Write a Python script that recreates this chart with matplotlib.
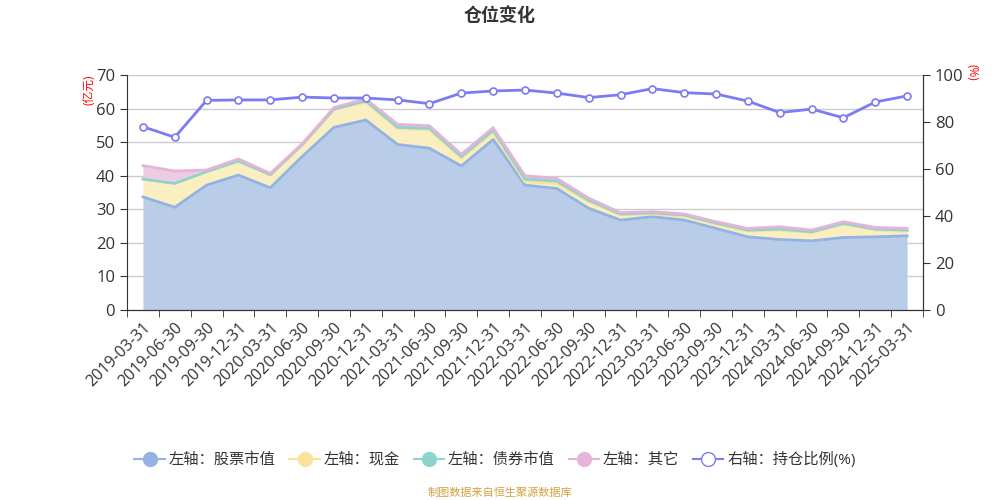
import matplotlib
matplotlib.use('Agg')
import matplotlib.pyplot as plt
from matplotlib.lines import Line2D
import numpy as np

plt.rcParams['font.family'] = ['Open Sans', 'Noto Sans CJK SC', 'DejaVu Sans']

dates = ['2019-03-31', '2019-06-30', '2019-09-30', '2019-12-31', '2020-03-31',
         '2020-06-30', '2020-09-30', '2020-12-31', '2021-03-31', '2021-06-30',
         '2021-09-30', '2021-12-31', '2022-03-31', '2022-06-30', '2022-09-30',
         '2022-12-31', '2023-03-31', '2023-06-30', '2023-09-30', '2023-12-31',
         '2024-03-31', '2024-06-30', '2024-09-30', '2024-12-31', '2025-03-31']

# 亿元
stock = [33.7, 30.6, 37.2, 40.2, 36.4, 45.7, 54.4, 56.6, 49.3, 48.2, 42.9, 50.8, 37.2,
         36.2, 30.3, 26.8, 27.8, 26.8, 24.3, 21.8, 21.0, 20.6, 21.6, 21.8, 22.1]
cash = [5.3, 7.1, 4.0, 4.0, 3.8, 3.5, 5.4, 5.3, 4.8, 5.4, 2.3, 2.0, 1.0,
        1.5, 2.0, 1.5, 0.8, 1.2, 1.2, 1.7, 2.8, 2.4, 3.9, 2.0, 1.4]
bond = [0.0, 0.0, 0.0, 0.2, 0.1, 0.0, 0.0, 0.4, 0.3, 0.5, 0.5, 0.7, 0.8,
        0.7, 0.4, 0.3, 0.3, 0.3, 0.4, 0.3, 0.3, 0.3, 0.3, 0.3, 0.3]
other = [4.0, 3.7, 0.5, 0.6, 0.4, 0.3, 0.5, 0.6, 0.9, 0.8, 0.7, 0.8, 1.0,
         0.8, 0.6, 0.4, 0.4, 0.3, 0.4, 0.5, 0.7, 0.5, 0.5, 0.5, 0.5]
# %
ratio = [78.0, 73.5, 89.2, 89.4, 89.4, 90.6, 90.2, 90.2, 89.4, 87.8, 92.3, 93.2, 93.6,
         92.3, 90.4, 91.6, 94.2, 92.5, 91.9, 88.9, 84.0, 85.5, 81.8, 88.5, 91.1]

names = ['左轴：股票市值', '左轴：现金', '左轴：债券市值', '左轴：其它']
line_colors = ['#93b3e3', '#f7e39c', '#8fd3d0', '#e6b4d8']
fill_colors = ['#b9cde9', '#fbefc2', '#bfe6e4', '#eccbe3']
ratio_color = '#7b7bf3'

fig = plt.figure(figsize=(10, 5), dpi=100)
ax = fig.add_axes([0.127, 0.38, 0.796, 0.47])
ax2 = ax.twinx()

x = np.arange(len(dates))
layers = [stock, cash, bond, other]
base = np.zeros(len(dates))
for vals, lc, fc in zip(layers, line_colors, fill_colors):
    top = base + np.array(vals)
    ax.fill_between(x, base, top, color=fc, linewidth=0, zorder=2)
    ax.plot(x, top, color=lc, linewidth=2, zorder=3)
    base = top

ax2.plot(x, ratio, color=ratio_color, linewidth=2, marker='o', markersize=5,
         markerfacecolor='white', markeredgecolor=ratio_color, markeredgewidth=1.2, zorder=5)

ax.set_xlim(-0.5, len(dates) - 0.5)
ax.set_ylim(0, 70)
ax.set_yticks(range(0, 71, 10))
ax2.set_ylim(0, 100)
ax2.set_yticks(range(0, 101, 20))

ax.set_xticks(x)
ax.set_xticklabels(dates, rotation=45, ha='right', rotation_mode='anchor', fontsize=11.5, color='#333333')
ax.set_xticks(np.arange(-0.5, len(dates), 1), minor=True)
ax.tick_params(axis='x', which='major', length=0, pad=7)
ax.tick_params(axis='x', which='minor', length=5, color='#333333')
ax.tick_params(axis='y', labelsize=12, labelcolor='#333333', length=5, color='#333333')
ax2.tick_params(axis='y', labelsize=12, labelcolor='#333333', length=5, color='#333333')

ax.grid(axis='y', color='#cccccc', linewidth=1, zorder=0)
ax.set_axisbelow(True)
for a in (ax, ax2):
    a.spines['top'].set_visible(False)
    a.spines['left'].set_color('#333333')
    a.spines['right'].set_color('#333333')
    a.spines['bottom'].set_color('#333333')
ax2.spines['left'].set_visible(False)

fig.text(0.5, 0.968, '仓位变化', ha='center', va='center', fontsize=13, fontweight='bold', color='#333333')
fig.text(0.089, 0.82, '(亿元)', rotation=90, ha='center', va='center', fontsize=8.5, color='red')
fig.text(0.972, 0.855, '(%)', rotation=270, ha='center', va='center', fontsize=8.5, color='red')

handles = []
for lc, name in zip(line_colors, names):
    handles.append(Line2D([0], [0], color=lc, linewidth=1.5, marker='o', markersize=10,
                          markerfacecolor=lc, markeredgecolor=lc, label=name))
handles.append(Line2D([0], [0], color=ratio_color, linewidth=1.5, marker='o', markersize=10,
                      markerfacecolor='white', markeredgecolor=ratio_color, label='右轴：持仓比例(%)'))
fig.legend(handles=handles, loc='center', bbox_to_anchor=(0.495, 0.08), ncol=5, frameon=False,
           fontsize=11, handlelength=2.0, handletextpad=0.25, columnspacing=0.9,
           labelcolor='#333333')

fig.text(0.5, 0.014, '制图数据来自恒生聚源数据库', ha='center', va='center', fontsize=8, color='#d4a040')

fig.savefig('out.png', dpi=100)
